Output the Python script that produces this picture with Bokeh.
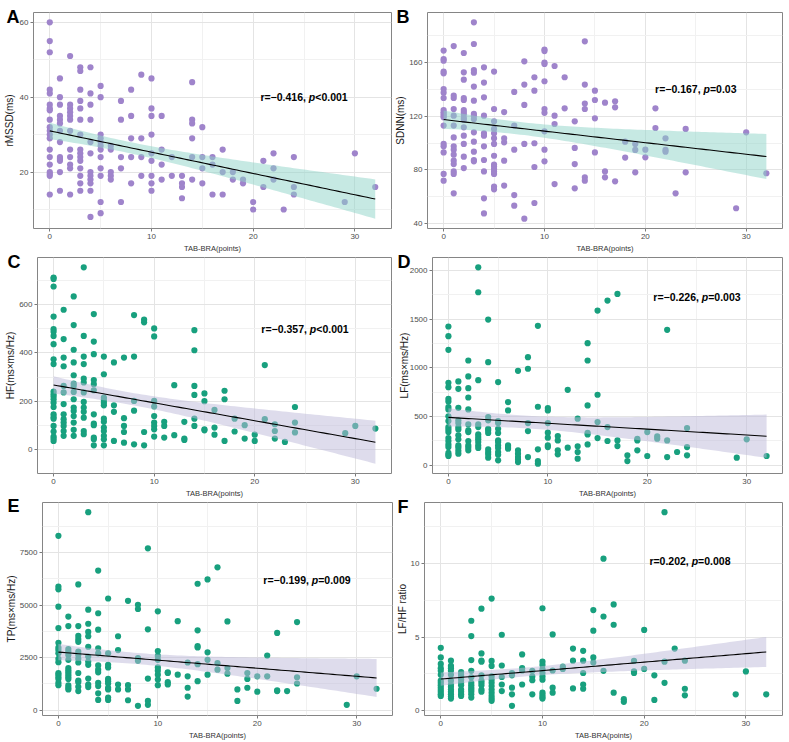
import numpy as np
from bokeh.plotting import figure
from bokeh.models import Range1d, FixedTicker, Label
from bokeh.layouts import column, row
from bokeh.embed import file_html
from bokeh.resources import INLINE

# ---------------- data ----------------
tab_levels = [0, 1, 2, 3, 4, 5, 6, 7, 8, 9, 10, 11, 12, 13, 14, 15, 16, 17,
              18, 19, 20, 21, 22, 23, 24, 29, 30, 32]

rmssd = [
    [60, 55, 52, 42, 41, 38, 37, 36.5, 34, 32, 31, 30, 29, 26, 24, 22, 20, 19.5, 19, 14],
    [45, 40, 38, 35, 34, 33, 31, 28, 24, 23.5, 23, 20, 15],
    [51, 38, 37, 36, 35, 34, 31, 26, 24, 22, 21, 14],
    [48, 47, 42, 39, 37, 34, 30, 26, 25, 24, 23, 21, 19, 17, 15],
    [48, 41, 38, 34, 28, 25, 20, 19, 18, 17, 15, 8],
    [43, 40, 30, 29, 28, 27, 26, 24, 21, 19, 12, 9],
    [27, 26, 20, 19, 18],
    [39, 34, 24, 21, 12],
    [42, 35, 29, 24, 17],
    [46, 29, 24, 19],
    [45, 37, 35, 30, 25, 23, 19, 17, 15],
    [35, 26, 22, 18],
    [24, 19],
    [19, 17, 16, 13],
    [44, 34, 33, 29, 24, 18],
    [32, 24, 21, 17],
    [24, 22, 14],
    [26, 20, 14],
    [20, 18],
    [18, 17],
    [12, 10],
    [23, 16],
    [25, 21, 18],
    [10],
    [24, 16, 14],
    [12],
    [25],
    [16],
]

sdnn = [
    [169, 162.7, 161.5, 153.3, 152, 140.3, 137.6, 133.6, 124.6, 122.9, 121.7, 120.4, 119.2, 113, 99.3, 97.5, 93, 76.9, 71.9],
    [172.4, 135.4, 133.6, 125.4, 120.4, 113, 104.2, 97.5, 95, 91.3, 86.8, 84.3, 78.8, 76.9, 62.4],
    [167.2, 152.8, 147.3, 133.6, 132.1, 124.6, 122.9, 121.2, 118.7, 117.2, 111.7, 105.5, 99.3, 89.8, 81.3],
    [190.1, 173.9, 154.5, 152.5, 142.1, 131.6, 121.7, 120.4, 117.9, 108, 101, 93.5, 87.3, 86.3],
    [156.5, 145.1, 134.1, 120.4, 107.2, 105.5, 97.5, 87.3, 78.8, 58.7, 47.4],
    [153.3, 125.4, 116.2, 110.5, 107.2, 103.5, 99.3, 90.5, 83.8, 82.6, 80.6, 78.8, 76.9, 67.4, 65.4],
    [123.1, 103.5, 100.5, 86.8, 68.2],
    [138.1, 113, 95, 61.1, 53.2],
    [161, 143.6, 128.4, 99.3, 43.5],
    [149.1, 139.1, 99.8, 82.1, 55.2],
    [169.8, 168.6, 160, 159, 146.1, 125.4, 122.5, 108.7, 95, 86.3],
    [157.5, 120.4, 114.2, 69.3],
    [149.1, 125.9],
    [116.2, 96.3, 84.3, 66.2],
    [175.9, 143.6, 129.4, 125.4, 74.4, 71.9],
    [139.1, 132.1, 118.4, 93],
    [130.1, 78.8, 74.4],
    [131.1, 126.6, 71.4],
    [101, 89.1],
    [99.3, 94.8, 78.1],
    [95, 89.3],
    [125.9, 111.2],
    [103.5, 94.8, 93.5],
    [62.4],
    [110.5, 78.1],
    [51.3],
    [108],
    [77.4],
]

hf = [
    [711, 705, 674, 550, 498, 487, 470, 436, 374, 354, 241, 230, 220, 209, 195, 177, 147, 136, 129, 99, 76, 55, 47, 37],
    [578, 457, 381, 345, 264, 237, 189, 147, 127, 113, 99, 78, 58],
    [633, 515, 413, 361, 308, 274, 264, 239, 209, 175, 161, 140, 113, 83, 58],
    [753, 470, 385, 354, 294, 278, 237, 198, 175, 157, 133, 78, 65],
    [560, 447, 395, 288, 271, 246, 147, 109, 102, 51, 44, 19],
    [385, 312, 216, 206, 195, 184, 129, 116, 92, 78, 58, 44, 19],
    [361, 184, 157, 37],
    [381, 131, 99, 74, 30],
    [556, 385, 202, 162, 23],
    [537, 526, 74, 19],
    [501, 468, 202, 179, 140, 113, 99, 85, 55],
    [116, 99, 51],
    [267, 61],
    [116, 47, 41],
    [494, 411, 264, 227, 129, 99],
    [233, 201, 85, 81],
    [165, 92, 63],
    [244, 209, 37],
    [129, 76],
    [102, 47],
    [63, 37],
    [350, 127],
    [106, 78, 47],
    [33],
    [177, 113, 72],
    [69],
    [99],
    [88],
]

lf = [
    [1426, 1327, 1186, 848, 803, 684, 656, 598, 574, 503, 455, 393, 369, 342, 280, 250, 215, 188, 127, 109, 96],
    [862, 786, 591, 462, 434, 393, 369, 308, 267, 205, 181, 150, 120],
    [1077, 913, 793, 697, 574, 420, 359, 342, 250, 205, 181, 154],
    [2034, 1778, 875, 420, 393, 318, 291, 267, 239, 205, 178],
    [1497, 1060, 496, 462, 376, 359, 332, 164, 137, 113, 79],
    [855, 455, 434, 376, 332, 256, 239, 205, 178, 137, 109, 51],
    [650, 564, 205, 188, 171],
    [971, 154, 120, 85, 62, 34],
    [1111, 992, 434, 352, 85],
    [1433, 602, 164, 44, 17],
    [588, 564, 434, 335, 284, 205, 188],
    [301, 256, 154, 113],
    [776, 181],
    [479, 195, 137, 68],
    [1255, 1077, 615, 335, 318, 215],
    [1590, 725, 444, 280],
    [1692, 393, 250],
    [1761, 256, 198],
    [103, 44],
    [273, 256, 154],
    [342, 96],
    [297, 273],
    [1392, 256, 85],
    [137],
    [383, 188, 103],
    [79],
    [267],
    [96],
]

tp = [
    [8297, 5875, 5750, 4922, 3906, 3203, 2969, 2859, 2703, 2438, 2281, 1766, 1688, 1578, 1484, 1297, 1188],
    [4453, 4000, 2906, 2781, 2625, 2391, 2000, 1891, 1797, 1688, 1578, 1484, 1172, 1063, 984],
    [5984, 4000, 3531, 3375, 3250, 2781, 2625, 2438, 2266, 1766, 1406, 1328, 1109, 906],
    [9422, 4781, 4109, 3719, 3516, 3016, 2547, 2313, 2156, 1500, 1219, 1094],
    [6641, 4609, 3828, 2938, 2703, 2125, 1922, 1797, 1297, 1141, 797, 484],
    [5313, 2703, 2156, 2031, 1484, 1375, 1266, 1063, 984, 594, 484],
    [3516, 2859, 1219, 984],
    [5203, 1188, 984, 469],
    [5016, 4813, 2469, 2344, 203],
    [7703, 3844, 1500, 438, 250],
    [4703, 2813, 2578, 2391, 2031, 1875, 1688, 1453, 1188],
    [1797, 1766, 1328, 1219],
    [4234, 1688],
    [2266, 1609, 1063, 641],
    [6016, 3797, 3047, 2984, 2188, 1375],
    [6219, 2750, 2391, 1688],
    [6797, 2234, 1922],
    [4219, 2000, 1734],
    [984, 438],
    [1766, 1484, 1063],
    [1609, 875],
    [2594, 1609],
    [3672, 938, 906],
    [906],
    [4188, 1563, 1266],
    [250],
    [1609],
    [1016],
]

lfhf = [
    [4.27, 3.62, 3.18, 2.89, 2.71, 2.44, 2.04, 1.89, 1.73, 1.56, 1.40, 1.27, 1.11, 1.0],
    [3.40, 3.04, 2.89, 2.71, 2.44, 2.04, 1.78, 1.62, 1.44, 1.29, 1.11, 0.96, 0.82],
    [2.62, 2.44, 2.29, 2.11, 1.89, 1.73, 1.44, 1.29, 1.11, 1.0],
    [6.11, 5.07, 3.44, 2.71, 2.27, 1.89, 1.73, 1.56, 1.44, 1.29, 1.11, 0.89],
    [6.93, 3.89, 3.40, 3.33, 2.40, 2.04, 1.89, 1.73, 1.44, 1.29],
    [7.62, 3.38, 3.04, 2.33, 2.11, 1.89, 1.67, 1.44, 1.22, 1.0, 0.82, 0.67],
    [5.16, 3.07, 2.29, 1.78, 1.33],
    [2.56, 2.40, 1.56, 1.11, 0.33],
    [3.82, 2.89, 2.73, 1.78],
    [2.71, 2.33, 2.07, 1.11],
    [6.96, 3.33, 3.11, 2.82, 2.56, 2.33, 2.11, 1.22, 1.07, 0.93, 0.82],
    [5.18, 2.73, 1.56, 1.22],
    [3.0, 2.84],
    [4.22, 3.40, 1.51],
    [4.07, 3.40, 2.56, 1.78, 1.49],
    [6.84, 5.44, 3.62, 3.27],
    [10.33, 6.40, 2.71],
    [7.22, 5.84, 1.22],
    [0.78, 0.6],
    [3.38, 2.67, 2.56],
    [5.49, 2.84],
    [2.40, 0.73],
    [13.49, 3.33, 1.89],
    [4.22],
    [3.40, 1.49, 1.04],
    [1.11],
    [2.67],
    [1.11],
]

x_ticks = [0, 10, 20, 30]
x_minor = [5, 15, 25]
y_ticks_a = [20, 40, 60]
y_minor_a = [10, 30, 50]
y_ticks_b = [40, 80, 120, 160]
y_minor_b = [60, 100, 140, 180]
y_ticks_c = [0, 200, 400, 600]
y_minor_c = [-100, 100, 300, 500, 700]
y_ticks_d = [0, 500, 1000, 1500, 2000]
y_minor_d = [250, 750, 1250, 1750]
y_ticks_e = [0, 2500, 5000, 7500]
y_minor_e = [1250, 3750, 6250, 8750]
y_ticks_f = [0, 5, 10]
y_minor_f = [2.5, 7.5, 12.5]

r_labels = ["r=\u22120.416, ", "r=\u22120.167, ", "r=\u22120.357, ",
            "r=\u22120.226, ", "r=\u22120.199, ", "r=0.202, "]
p_labels = ["<0.001", "=0.03", "<0.001", "=0.003", "=0.009", "=0.008"]

# ---------------- styling ----------------
PURPLE = "#9f84cb"
TEAL = "#18a07e"
BAND_TEAL = "#8dd3c7"
BAND_LAV = "#bebada"
FONT = "Liberation Sans"

BL, BT = 45, 26          # generous fixed borders; figures are placed by margins
FRAME_H = 216

# Arial-bold advance widths (per 1000 em) for centring the stat text
AW = {'r': 389, '=': 584, '\u2212': 584, '.': 278, ',': 278, ' ': 278, 'p': 611, '<': 584}
for d in "0123456789":
    AW[d] = 556


def text_w(s, size):
    return sum(AW.get(c, 556) for c in s) * size / 1000.0


def expand(levels, groups):
    xs, ys = [], []
    for lv, g in zip(levels, groups):
        for v in g:
            xs.append(lv)
            ys.append(v)
    return np.array(xs, float), np.array(ys, float)


def lm_fit(x, y):
    n = len(x)
    b, a = np.polyfit(x, y, 1)
    xg = np.linspace(x.min(), x.max(), 81)
    yh = a + b * xg
    res = y - (a + b * x)
    s = np.sqrt((res ** 2).sum() / (n - 2))
    sxx = ((x - x.mean()) ** 2).sum()
    se = s * np.sqrt(1.0 / n + (xg - x.mean()) ** 2 / sxx)
    t = 1.975
    return xg, yh, yh - t * se, yh + t * se


def panel(letter, groups, ylab, yt, ym, pcol, bcol, rtxt, ptxt, ax, ay,
          frame_w, br, bb, margin, ldx, ldy, yls):
    x, y = expand(tab_levels, groups)
    xg, yh, lo, hi = lm_fit(x, y)
    ymin = min(y.min(), lo.min())
    ymax = max(y.max(), hi.max())
    ypad = 0.05 * (ymax - ymin)
    xpad = 0.05 * (x.max() - x.min())
    xr = Range1d(x.min() - xpad, x.max() + xpad)
    yr = Range1d(ymin - ypad, ymax + ypad)
    p = figure(width=BL + frame_w + br, height=BT + FRAME_H + bb,
               output_backend="svg", toolbar_location=None,
               x_range=xr, y_range=yr,
               min_border_left=BL, min_border_right=br,
               min_border_top=BT, min_border_bottom=bb, margin=margin)
    p.background_fill_color = "white"
    p.border_fill_color = None
    p.outline_line_color = "#858585"
    p.outline_line_width = 1

    p.xaxis.ticker = FixedTicker(ticks=x_ticks, minor_ticks=x_minor)
    p.yaxis.ticker = FixedTicker(ticks=yt, minor_ticks=ym)
    for axis in (p.xaxis, p.yaxis):
        axis.axis_line_color = None
        axis.major_tick_line_color = "#7a7a7a"
        axis.major_tick_in = 0
        axis.major_tick_out = 3
        axis.minor_tick_line_color = None
        axis.major_label_text_font = FONT
        axis.major_label_text_font_size = "8px"
        axis.major_label_text_color = "#4d4d4d"
        axis.major_label_standoff = 1
        axis.axis_label_text_font = FONT
        axis.axis_label_text_font_style = "normal"
    p.xaxis.axis_label = "TAB-BRA(points)"
    p.xaxis.axis_label_text_font_size = "7.5px"
    p.xaxis.axis_label_text_color = "#333333"
    p.xaxis.axis_label_standoff = 2
    p.yaxis.axis_label = ylab
    p.yaxis.axis_label_text_font_size = "10px"
    p.yaxis.axis_label_text_color = "#1a1a1a"
    p.yaxis.axis_label_standoff = yls

    for g in (p.xgrid, p.ygrid):
        g.grid_line_color = "#e4e4e4"
        g.grid_line_width = 1
        g.minor_grid_line_color = "#f1f1f1"
        g.minor_grid_line_width = 1

    p.scatter(x, y, size=6.2, fill_color=pcol, line_color=None)
    p.varea(x=xg, y1=lo, y2=hi, fill_color=bcol, fill_alpha=0.5)
    p.line(xg, yh, line_color="black", line_width=1.1)

    fs = 10.5
    w1 = text_w(rtxt, fs)
    w2 = text_w("p", fs)
    w3 = text_w(ptxt, fs)
    start = -(w1 + w2 + w3) / 2.0
    common = dict(x=ax, y=ay, text_font=FONT, text_font_size="10.5px",
                  text_baseline="middle", text_align="left", text_color="black")
    p.add_layout(Label(text=rtxt, x_offset=start, text_font_style="bold", **common))
    p.add_layout(Label(text="p", x_offset=start + w1, text_font_style="bold italic", **common))
    p.add_layout(Label(text=ptxt, x_offset=start + w1 + w2, text_font_style="bold", **common))

    # panel letter: lives in the (unclipped) top side panel, anchored at the
    # frame's top-left corner
    p.add_layout(Label(text=letter, x=xr.start, y=yr.end, x_offset=ldx, y_offset=-ldy,
                       text_font=FONT, text_font_size="18px", text_font_style="bold",
                       text_baseline="alphabetic", text_align="left", text_color="black"),
                 "above")
    return p


# frames (page px): A 33-391 / 12-228, B 427-782, C 37-391 / 257-473,
# D 432-782, E 42-392 / 502-718, F 424-782
pa = panel("A", rmssd, "rMSSD(ms)", y_ticks_a, y_minor_a, PURPLE, BAND_TEAL,
           r_labels[0], p_labels[0], 25, 40, 358, 4, 34, (-14, 0, 0, -12), -27, 4, 2)
pb = panel("B", sdnn, "SDNN(ms)", y_ticks_b, y_minor_b, PURPLE, BAND_TEAL,
           r_labels[1], p_labels[1], 25, 140, 355, 7, 34, (-14, 0, 0, -13), -31, 4, 0)
pc = panel("C", hf, "HF(ms\u00d7ms/Hz)", y_ticks_c, y_minor_c, TEAL, BAND_LAV,
           r_labels[2], p_labels[2], 25, 500, 354, 4, 34, (-31, 0, 0, -8), -30, 4, 0)
pd = panel("D", lf, "LF(ms\u00d7ms/Hz)", y_ticks_d, y_minor_d, TEAL, BAND_LAV,
           r_labels[3], p_labels[3], 25, 1730, 350, 7, 34, (-31, 0, 0, -8), -35, 4, -3)
pe = panel("E", tp, "TP(ms\u00d7ms/Hz)", y_ticks_e, y_minor_e, TEAL, BAND_LAV,
           r_labels[4], p_labels[4], 25, 6200, 350, 4, 24, (-31, 0, 0, -3), -35, 3.5, 0)
pf = panel("F", lfhf, "LF/HF ratio", y_ticks_f, y_minor_f, TEAL, BAND_LAV,
           r_labels[5], p_labels[5], 24.5, 10.2, 358, 7, 24, (-31, 0, 0, -17), -27, 4, 0)

layout = column(row(pa, pb), row(pc, pd), row(pe, pf))
open("out.html", "w").write(file_html(layout, INLINE))
